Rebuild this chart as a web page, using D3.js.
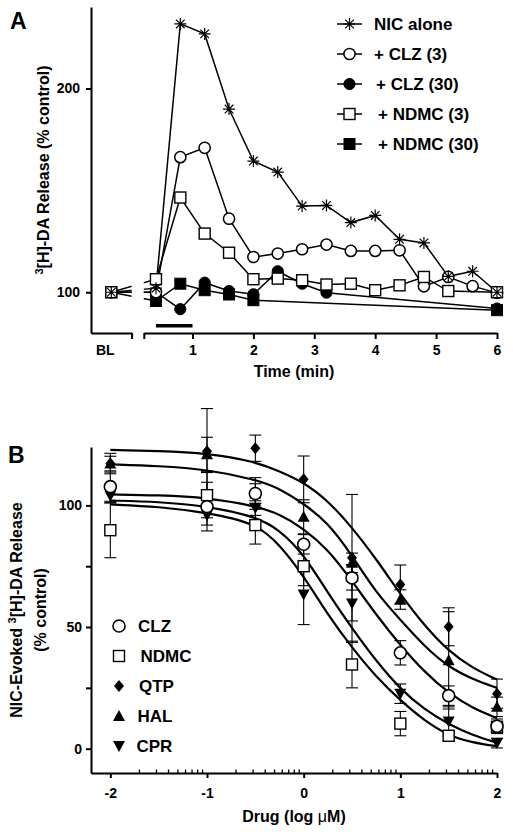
<!DOCTYPE html>
<html><head><meta charset="utf-8">
<script src="https://cdn.jsdelivr.net/npm/d3@7"></script>
<style>
body{margin:0;background:#fff}
svg{display:block}
text{font-family:"Liberation Sans",Arial,Helvetica,sans-serif;font-weight:bold;fill:#000}
</style>
</head><body>
<svg id="c" width="513" height="834"></svg>
<script>
// ---------------- Panel A data ----------------
const timesA = [0.4, 0.8, 1.2, 1.6, 2.0, 2.4, 2.8, 3.2, 3.6, 4.0, 4.4, 4.8, 5.2, 5.6, 6.0];
const blTime = -1/3;           // position of the baseline (BL) sample
const blValueA = 100;
const nicAlone = [102, 231.7, 226.8, 189.9, 164.4, 159, 142.3, 142.6, 134.2, 137.7, 126, 124.2, 107.8, 110.3, 100];
const clz3     = [100, 166.3, 170.9, 136.1, 117.3, 119, 121.1, 123.4, 120.3, 120.3, 120.6, 102.9, 107.5, 103, 99.7];
const clz30    = [100, 91.7, 104.7, 100.6, 99, 110.3, 104.2, 99.8, null, null, null, null, null, null, 92];
const ndmc3    = [106.4, 146.5, 128.8, 119.4, 106.4, 106.7, 105.9, 103.8, 104.2, 101, 103.4, 107.5, 100.6, null, 100];
const ndmc30   = [95.7, 104.2, 101, 98.9, 96.1, null, null, null, null, null, null, null, null, null, 91.2];
const seriesNamesA = ["NIC alone", "+ CLZ (3)", "+ CLZ (30)", "+ NDMC (3)", "+ NDMC (30)"];
const yTicksA = [100, 200];
const xTicksA = [1, 2, 3, 4, 5, 6];
const drugBarA = [0.4, 1.0];
const drugBarLevelA = 83.5;

// ---------------- Panel B data ----------------
const logDose = [-2, -1, -0.5, 0, 0.5, 1, 1.5, 2];
const drugNamesB = ["CLZ", "NDMC", "QTP", "HAL", "CPR"];
const clzB  = [107.7, 99.5, 104.9, 84, 70.2, 39.4, 21.8, 9.2];
const clzE  = [6, 10, 6.5, 4, 5, 5, 4, 3];
const ndmcB = [89.8, 104.2, 91.9, 75, 34.6, 10.3, 5.3, 9.0];
const ndmcE = [11.3, 9.3, 7.8, 8, 9.6, 5, 2, 2];
const qtpB  = [117.2, 122.3, 123.5, 110.7, 78.5, 67.5, 50.1, 22.6];
const qtpE  = [4.2, 17.5, 5.4, 9.6, 26, 8, 7.8, 6];
const halB  = [117.2, 121, 104.9, 95.3, 76.4, 61.3, 36.3, 17.2];
const halE  = [3, 7, 4, 7, 4, 4, 20, 4];
const cprB  = [104, 95.9, 98.9, 63.4, 59.7, 22.6, 11.2, 2.3];
const cprE  = [3, 4, 3, 12.4, 16, 4, 6, 2];
// fitted curves
const curveX   = [-2, -1.5, -1, -0.5, -0.25, 0, 0.25, 0.5, 0.75, 1, 1.25, 1.5, 1.75, 2];
const qtpFit   = [122.8, 122.4, 121.5, 118, 114, 109.5, 102, 91, 78, 63.5, 50.5, 40, 33, 28.4];
const halFit   = [116.9, 116.2, 114.8, 110.7, 107, 100.7, 93, 79.5, 64, 53, 42, 33.5, 28.5, 25];
const clzFit   = [104.5, 104.2, 103.2, 99.8, 96.5, 90.5, 82, 69, 55, 42.5, 31.5, 22.8, 16.5, 12.6];
const cprFit   = [102, 101.5, 99.7, 95.5, 90, 80, 64, 49.5, 36, 24.5, 16, 10, 5.5, 2.5];
const ndmcFit  = [100.4, 99.5, 97, 92.9, 84, 71, 55, 41.5, 29.5, 19.8, 11.5, 5.3, 2.5, 1];
const yTicksB = [0, 50, 100];
const yMinorB = [25, 75];
const xTicksB = [-2, -1, 0, 1, 2];

// ---------------- drawing ----------------
const svg = d3.select("#c");
const defs = svg.append("defs");

function sym(g, type, x, y) {
  const s = g.append("g").attr("transform", `translate(${x},${y})`);
  if (type === "circleOpen") s.append("circle").attr("r", 5.6).attr("fill", "#fff").attr("stroke", "#000").attr("stroke-width", 1.5);
  else if (type === "circleBig") s.append("circle").attr("r", 6).attr("fill", "#fff").attr("stroke", "#000").attr("stroke-width", 1.6);
  else if (type === "circleFilled") s.append("circle").attr("r", 5.6).attr("fill", "#000").attr("stroke", "#000").attr("stroke-width", 1);
  else if (type === "squareOpen") s.append("rect").attr("x", -5.5).attr("y", -5.5).attr("width", 11).attr("height", 11).attr("fill", "#fff").attr("stroke", "#000").attr("stroke-width", 1.4);
  else if (type === "squareFilled") s.append("rect").attr("x", -5.5).attr("y", -5.5).attr("width", 11).attr("height", 11).attr("fill", "#000").attr("stroke", "#000").attr("stroke-width", 1);
  else if (type === "star") {
    const a = 6, b = 4.3;
    s.append("path").attr("d", `M${-a},0L${a},0M0,${-a}L0,${a}M${-b},${-b}L${b},${b}M${-b},${b}L${b},${-b}`)
      .attr("stroke", "#000").attr("stroke-width", 1.2).attr("fill", "none");
  }
  else if (type === "diamond") s.append("path").attr("d", "M0,-6L5,0L0,6L-5,0Z").attr("fill", "#000");
  else if (type === "triUp") s.append("path").attr("d", "M0,-6L6,5L-6,5Z").attr("fill", "#000");
  else if (type === "triDown") s.append("path").attr("d", "M0,6L6,-5L-6,-5Z").attr("fill", "#000");
  return s;
}
function styleAxis(g, w) {
  g.selectAll("path,line").attr("stroke", "#000").attr("stroke-width", w);
  g.selectAll("text").attr("fill", "#000").style("font-size", "14px").style("font-weight", "bold")
    .style("font-family", '"Liberation Sans",Arial,sans-serif');
}

// ===== Panel A =====
const xA = d3.scaleLinear().domain([-2/3, 6]).range([91, 497]);
const yA = d3.scaleLinear().domain([80, 240]).range([333, 7]);
const gA = svg.append("g");

const yAxA = gA.append("g").attr("transform", `translate(${xA(-2/3)},0)`)
  .call(d3.axisLeft(yA).tickValues(yTicksA).tickSize(5).tickPadding(6).tickSizeOuter(0));
styleAxis(yAxA, 2);
const xBL = d3.scaleLinear().domain([-2/3, 0]).range([xA(-2/3), xA(0)]);
const xAxBL = gA.append("g").attr("transform", `translate(0,${yA(80)})`)
  .call(d3.axisBottom(xBL).tickValues([0]).tickFormat(() => "").tickSize(6).tickSizeOuter(0));
styleAxis(xAxBL, 2);
gA.append("text").attr("x", xA(blTime) - 6).attr("y", yA(80) + 22).attr("text-anchor", "middle")
  .style("font-size", "14px").text("BL");
const xMain = d3.scaleLinear().domain([0.2, 6]).range([xA(0.2), xA(6)]);
const xAxM = gA.append("g").attr("transform", `translate(0,${yA(80)})`)
  .call(d3.axisBottom(xMain).tickValues([0.2].concat(xTicksA)).tickFormat(d => xTicksA.includes(d) ? String(d) : "")
    .tickSize(6).tickPadding(6).tickSizeOuter(0));
styleAxis(xAxM, 2);

gA.append("text").attr("x", 10).attr("y", 29).style("font-size", "23px").text("A");
gA.append("text").attr("x", 294).attr("y", 377).attr("text-anchor", "middle").style("font-size", "16px").text("Time (min)");
const ylA = gA.append("text").attr("transform", "translate(49,170) rotate(-90)").attr("text-anchor", "middle").style("font-size", "16px");
ylA.append("tspan").style("font-size", "11px").attr("dy", "-6").text("3");
ylA.append("tspan").attr("dy", "6").text("[H]-DA Release (% control)");

gA.append("line").attr("x1", xA(drugBarA[0])).attr("x2", xA(drugBarA[1]))
  .attr("y1", yA(drugBarLevelA)).attr("y2", yA(drugBarLevelA)).attr("stroke", "#000").attr("stroke-width", 3.5);

const clip = defs.append("clipPath").attr("id", "brk");
clip.append("rect").attr("x", 0).attr("y", 0).attr("width", xA(0)).attr("height", 400);
clip.append("rect").attr("x", xA(0.2)).attr("y", 0).attr("width", 513).attr("height", 400);

const symA = ["star", "circleOpen", "circleFilled", "squareOpen", "squareFilled"];
const valsA = [nicAlone, clz3, clz30, ndmc3, ndmc30];
const ptsA = valsA.map(vals => [{t: blTime, v: blValueA}].concat(
  timesA.map((t, i) => ({t, v: vals[i]})).filter(d => d.v != null)));
const lineA = d3.line().x(d => xA(d.t)).y(d => yA(d.v));
const linesG = gA.append("g").attr("clip-path", "url(#brk)");
ptsA.forEach(p => linesG.append("path").attr("d", lineA(p)).attr("fill", "none").attr("stroke", "#000").attr("stroke-width", 1.5));
[2, 4, 1, 3, 0].forEach(k => ptsA[k].forEach(d => sym(gA, symA[k], xA(d.t), yA(d.v))));

seriesNamesA.forEach((n, i) => {
  const y = 24 + i * 30;
  gA.append("line").attr("x1", 337).attr("x2", 362).attr("y1", y).attr("y2", y).attr("stroke", "#000").attr("stroke-width", 1.5);
  sym(gA, symA[i], 349.5, y);
  const tx = [374, 374, 376, 378, 378][i];
  gA.append("text").attr("x", tx).attr("y", y + 6).style("font-size", "17px").text(n);
});

// ===== Panel B =====
const xB = d3.scaleLinear().domain([-2.2, 2]).range([91, 497]);
const yB = d3.scaleLinear().domain([-10, 124]).range([773, 447]);
const gB = svg.append("g");

const yAxB = gB.append("g").attr("transform", `translate(${xB(-2.2)},0)`)
  .call(d3.axisLeft(yB).tickValues(yTicksB.concat(yMinorB)).tickFormat(d => yTicksB.includes(d) ? String(d) : "")
    .tickSize(5).tickPadding(4).tickSizeOuter(0));
styleAxis(yAxB, 2);
const xAxB = gB.append("g").attr("transform", `translate(0,${yB(-10)})`)
  .call(d3.axisBottom(xB).tickValues(xTicksB).tickFormat(d => String(d)).tickSize(5).tickPadding(10).tickSizeOuter(0));
styleAxis(xAxB, 2);
const minor = [];
[-2, -1, 0, 1].forEach(d => { for (let k = 2; k <= 9; k++) minor.push(d + Math.log10(k)); });
gB.append("g").selectAll("line").data(minor).join("line")
  .attr("x1", d => xB(d)).attr("x2", d => xB(d)).attr("y1", yB(-10)).attr("y2", yB(-10) - 3.5)
  .attr("stroke", "#000").attr("stroke-width", 1.3);

gB.append("text").attr("x", 8).attr("y", 463).style("font-size", "23px").text("B");
const xlB = gB.append("text").attr("x", 294).attr("y", 822).attr("text-anchor", "middle").style("font-size", "16px");
xlB.append("tspan").text("Drug (log ");
xlB.append("tspan").style("font-weight", "normal").text("μ");
xlB.append("tspan").text("M)");
const yl1 = gB.append("text").attr("transform", "translate(22,610) rotate(-90)").attr("text-anchor", "middle").style("font-size", "16px");
yl1.append("tspan").text("NIC-Evoked ");
yl1.append("tspan").style("font-size", "11px").attr("dy", "-6").text("3");
yl1.append("tspan").attr("dy", "6").text("[H]-DA Release");
gB.append("text").attr("transform", "translate(46,610) rotate(-90)").attr("text-anchor", "middle").style("font-size", "16px").text("(% control)");

const lineB = d3.line().x(d => xB(d[0])).y(d => yB(d[1])).curve(d3.curveBasis);
[qtpFit, halFit, clzFit, cprFit, ndmcFit].forEach(f => {
  gB.append("path").attr("d", lineB(curveX.map((x, i) => [x, f[i]])))
    .attr("fill", "none").attr("stroke", "#000").attr("stroke-width", 2.2);
});

const drugsB = [
  {v: halB, e: halE, s: "triUp"},
  {v: cprB, e: cprE, s: "triDown"},
  {v: ndmcB, e: ndmcE, s: "squareOpen"},
  {v: clzB, e: clzE, s: "circleBig"},
  {v: qtpB, e: qtpE, s: "diamond"}
];
const eg = gB.append("g").attr("stroke", "#000").attr("stroke-width", 1.1);
drugsB.forEach(dr => logDose.forEach((x, i) => {
  const cx = xB(x), lo = yB(dr.v[i] - dr.e[i]), hi = yB(dr.v[i] + dr.e[i]);
  eg.append("line").attr("x1", cx).attr("x2", cx).attr("y1", lo).attr("y2", hi);
  eg.append("line").attr("x1", cx - 6).attr("x2", cx + 6).attr("y1", lo).attr("y2", lo);
  eg.append("line").attr("x1", cx - 6).attr("x2", cx + 6).attr("y1", hi).attr("y2", hi);
}));
drugsB.forEach(dr => logDose.forEach((x, i) => sym(gB, dr.s, xB(x), yB(dr.v[i]))));

const legSymB = ["circleBig", "squareOpen", "diamond", "triUp", "triDown"];
const legTxB = [138, 140.5, 139, 137.5, 136.5];
drugNamesB.forEach((n, i) => {
  const y = 626 + i * 30;
  sym(gB, legSymB[i], 119, y);
  gB.append("text").attr("x", legTxB[i]).attr("y", y + 6).style("font-size", "17px").text(n);
});
</script>
</body></html>
